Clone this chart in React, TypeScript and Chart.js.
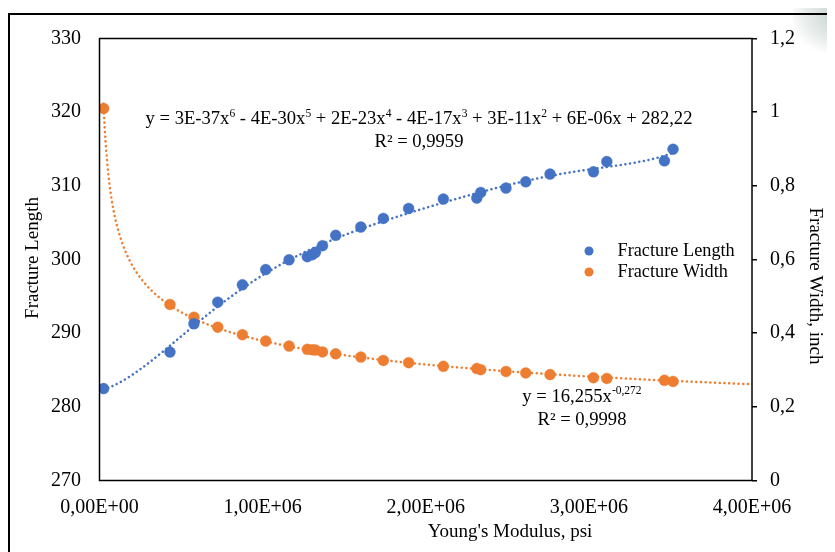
import React, { useEffect, useRef } from 'react';
import { Chart, registerables } from 'chart.js';

Chart.register(...registerables);

// ---- data ----
const youngsModulus = [25000, 432000, 579000, 725000, 876000, 1019000, 1162000, 1274000, 1305000, 1324000, 1367000, 1448000, 1602000, 1740000, 1895000, 2108000, 2313000, 2337000, 2492000, 2613000, 2762000, 3028000, 3110000, 3463000, 3516000];
const fractureLength = [282.48, 287.44, 291.28, 294.21, 296.57, 298.63, 299.95, 300.39, 300.66, 300.97, 301.88, 303.28, 304.41, 305.58, 306.93, 308.2, 308.34, 309.1, 309.69, 310.55, 311.59, 311.9, 313.29, 313.39, 314.97];
const fractureWidth = [1.01, 0.478, 0.4435, 0.4164, 0.3958, 0.3785, 0.365, 0.356, 0.355, 0.354, 0.349, 0.344, 0.335, 0.326, 0.32, 0.31, 0.304, 0.301, 0.296, 0.292, 0.2875, 0.279, 0.277, 0.272, 0.269];

const xTickLabels = ['0,00E+00', '1,00E+06', '2,00E+06', '3,00E+06', '4,00E+06'];
const leftTickLabels = ['270', '280', '290', '300', '310', '320', '330'];
const rightTickLabels = ['0', '0,2', '0,4', '0,6', '0,8', '1', '1,2'];

const seriesNames = ['Fracture Length', 'Fracture Width'];
const xTitle = "Young's Modulus, psi";
const yLeftTitle = 'Fracture Length';
const yRightTitle = 'Fracture Width, inch';
const eqLength: [string, boolean][] = [
  ['y = 3E-37x', false], ['6', true], [' - 4E-30x', false], ['5', true], [' + 2E-23x', false], ['4', true],
  [' - 4E-17x', false], ['3', true], [' + 3E-11x', false], ['2', true], [' + 6E-06x + 282,22', false],
];
const r2Length = 'R² = 0,9959';
const eqWidth: [string, boolean][] = [['y = 16,255x', false], ['-0,272', true]];
const r2Width = 'R² = 0,9998';

const BLUE = '#4472C4';
const ORANGE = '#ED7D31';
const FONT = '"Liberation Serif", "Times New Roman", serif';

// ---- trendline fits (least squares, like Excel) ----
function powerFit(xs: number[], ys: number[]) {
  const n = xs.length;
  let sx = 0, sy = 0, sxx = 0, sxy = 0;
  for (let i = 0; i < n; i++) {
    const lx = Math.log(xs[i]);
    const ly = Math.log(ys[i]);
    sx += lx; sy += ly; sxx += lx * lx; sxy += lx * ly;
  }
  const b = (n * sxy - sx * sy) / (n * sxx - sx * sx);
  const a = Math.exp((sy - b * sx) / n);
  return (x: number) => a * Math.pow(x, b);
}

function polyFit(xs: number[], ys: number[], deg: number) {
  const scale = 1e6;
  const m = deg + 1;
  const A: number[][] = [];
  const B: number[] = [];
  for (let r = 0; r < m; r++) {
    A.push(new Array(m).fill(0));
    B.push(0);
  }
  for (let i = 0; i < xs.length; i++) {
    const t = xs[i] / scale;
    const pw: number[] = [];
    for (let k = 0; k < 2 * m; k++) pw.push(Math.pow(t, k));
    for (let r = 0; r < m; r++) {
      for (let c = 0; c < m; c++) A[r][c] += pw[r + c];
      B[r] += pw[r] * ys[i];
    }
  }
  for (let col = 0; col < m; col++) {
    let piv = col;
    for (let r = col + 1; r < m; r++) if (Math.abs(A[r][col]) > Math.abs(A[piv][col])) piv = r;
    [A[col], A[piv]] = [A[piv], A[col]];
    [B[col], B[piv]] = [B[piv], B[col]];
    for (let r = col + 1; r < m; r++) {
      const f = A[r][col] / A[col][col];
      for (let c = col; c < m; c++) A[r][c] -= f * A[col][c];
      B[r] -= f * B[col];
    }
  }
  const coef = new Array(m).fill(0);
  for (let r = m - 1; r >= 0; r--) {
    let s = B[r];
    for (let c = r + 1; c < m; c++) s -= A[r][c] * coef[c];
    coef[r] = s / A[r][r];
  }
  return (x: number) => {
    const t = x / scale;
    let v = 0;
    for (let k = m - 1; k >= 0; k--) v = v * t + coef[k];
    return v;
  };
}

function drawRich(ctx: CanvasRenderingContext2D, parts: [string, boolean][], cx: number, cy: number, size: number) {
  const supSize = size * 0.62;
  let total = 0;
  for (const [t, sup] of parts) {
    ctx.font = `${sup ? supSize : size}px ${FONT}`;
    total += ctx.measureText(t).width;
  }
  let x = cx - total / 2;
  ctx.textAlign = 'left';
  ctx.textBaseline = 'middle';
  for (const [t, sup] of parts) {
    ctx.font = `${sup ? supSize : size}px ${FONT}`;
    ctx.fillText(t, x, sup ? cy - size * 0.32 : cy);
    x += ctx.measureText(t).width;
  }
}

const overlayPlugin = {
  id: 'overlay',
  afterDraw(chart: any) {
    const ctx: CanvasRenderingContext2D = chart.ctx;
    const a = chart.chartArea;
    ctx.save();
    // plot box
    ctx.strokeStyle = '#000';
    ctx.lineWidth = 1.5;
    ctx.strokeRect(a.left, a.top, a.right - a.left, a.bottom - a.top);

    ctx.fillStyle = '#000';
    // equations
    drawRich(ctx, eqLength, 411, 111.5, 18.6);
    drawRich(ctx, [[r2Length, false]], 411, 134.5, 18.6);
    drawRich(ctx, eqWidth, 574, 389, 18.6);
    drawRich(ctx, [[r2Width, false]], 574, 412.5, 18.6);

    // legend
    const lg = [[BLUE, seriesNames[0], 243], [ORANGE, seriesNames[1], 264]] as [string, string, number][];
    for (const [c, name, y] of lg) {
      ctx.fillStyle = c;
      ctx.beginPath();
      ctx.arc(581, y, 4.5, 0, Math.PI * 2);
      ctx.fill();
      ctx.fillStyle = '#000';
      ctx.font = `18.3px ${FONT}`;
      ctx.textAlign = 'left';
      ctx.textBaseline = 'middle';
      ctx.fillText(name, 609.5, y);
    }

    // axis titles
    ctx.font = `19px ${FONT}`;
    ctx.textAlign = 'center';
    ctx.textBaseline = 'middle';
    ctx.fillText(xTitle, 502, 524.5);
    ctx.save();
    ctx.translate(25, 250);
    ctx.rotate(-Math.PI / 2);
    ctx.fillText(yLeftTitle, 0, 0);
    ctx.restore();
    ctx.save();
    ctx.translate(807, 278);
    ctx.rotate(Math.PI / 2);
    ctx.fillText(yRightTitle, 0, 0);
    ctx.restore();
    ctx.restore();
  },
};

export default function App() {
  const ref = useRef<HTMLCanvasElement | null>(null);

  useEffect(() => {
    if (!ref.current) return;
    const lenFit = polyFit(youngsModulus, fractureLength, 6);
    const widFit = powerFit(youngsModulus, fractureWidth);
    const x0 = youngsModulus[0];
    const x1 = youngsModulus[youngsModulus.length - 1];
    const N = 400;
    const lenTrend: { x: number; y: number }[] = [];
    for (let i = 0; i <= N; i++) {
      const x = x0 + ((x1 - x0) * i) / N;
      lenTrend.push({ x, y: lenFit(x) });
    }
    const widTrend: { x: number; y: number }[] = [];
    const xEnd = 4e6;
    for (let i = 0; i <= N; i++) {
      const x = x0 * Math.pow(xEnd / x0, i / N);
      widTrend.push({ x, y: widFit(x) });
    }

    const tickFont = { family: FONT, size: 20 };
    const chart = new Chart(ref.current, {
      type: 'scatter',
      data: {
        datasets: [
          {
            label: seriesNames[0],
            data: youngsModulus.map((x, i) => ({ x, y: fractureLength[i] })),
            yAxisID: 'y',
            backgroundColor: BLUE,
            borderColor: 'rgba(68,114,196,0.35)',
            pointRadius: 5.5,
            pointBorderWidth: 1,
            showLine: false,
          },
          {
            label: seriesNames[1],
            data: youngsModulus.map((x, i) => ({ x, y: fractureWidth[i] })),
            yAxisID: 'y1',
            backgroundColor: ORANGE,
            borderColor: 'rgba(237,125,49,0.35)',
            pointRadius: 5.5,
            pointBorderWidth: 1,
            showLine: false,
          },
          {
            label: 'trend length',
            data: lenTrend,
            yAxisID: 'y',
            showLine: true,
            borderColor: BLUE,
            borderWidth: 2.5,
            borderDash: [0.1, 4.6],
            borderCapStyle: 'round',
            pointRadius: 0,
            fill: false,
          },
          {
            label: 'trend width',
            data: widTrend,
            yAxisID: 'y1',
            showLine: true,
            borderColor: ORANGE,
            borderWidth: 2.5,
            borderDash: [0.1, 4.6],
            borderCapStyle: 'round',
            pointRadius: 0,
            fill: false,
          },
        ],
      } as any,
      options: {
        animation: false,
        responsive: false,
        events: [],
        layout: { padding: { top: 29.3, left: 0, right: 0, bottom: 0 } },
        plugins: { legend: { display: false }, tooltip: { enabled: false } },
        scales: {
          x: {
            type: 'linear',
            position: 'bottom',
            min: 0,
            max: 4e6,
            ticks: {
              stepSize: 1e6,
              font: tickFont,
              color: '#000',
              padding: 15,
              maxRotation: 0,
              callback: (v: any) => xTickLabels[Math.round(Number(v) / 1e6)] ?? '',
            },
            grid: { display: false, drawTicks: false },
            border: { display: false },
            afterFit: (s: any) => { s.height = 71.5; },
          },
          y: {
            type: 'linear',
            position: 'left',
            min: 270,
            max: 330,
            ticks: {
              stepSize: 10,
              font: tickFont,
              color: '#000',
              padding: 18.5,
              callback: (v: any) => leftTickLabels[Math.round((Number(v) - 270) / 10)] ?? '',
            },
            grid: { display: false, drawTicks: false },
            border: { display: false },
            afterFit: (s: any) => { s.width = 91.5; },
          },
          y1: {
            type: 'linear',
            position: 'right',
            min: 0,
            max: 1.2,
            ticks: {
              stepSize: 0.2,
              font: tickFont,
              color: '#000',
              padding: 13,
              callback: (v: any) => rightTickLabels[Math.round(Number(v) / 0.2)] ?? '',
            },
            grid: { display: true, drawOnChartArea: false, drawTicks: true, tickLength: 5, color: '#000', lineWidth: 1.5 },
            border: { display: false },
            afterFit: (s: any) => { s.width = 83; },
          },
        },
      } as any,
      plugins: [overlayPlugin],
    });
    return () => chart.destroy();
  }, []);

  return (
    <div style={{ position: 'relative', width: 827, height: 544, overflow: 'hidden', background: '#fff' }}>
      <div
        style={{
          position: 'absolute',
          left: 785,
          top: -12,
          width: 60,
          height: 56,
          background: 'radial-gradient(ellipse at 75% 35%, rgba(160,178,170,0.6), rgba(200,212,206,0.35) 55%, rgba(255,255,255,0) 78%)',
        }}
      />
      <div
        style={{
          position: 'absolute',
          left: 0,
          top: 5,
          width: 1000,
          height: 1000,
          borderLeft: '2px solid #000',
          borderTop: '2px solid #000',
        }}
      />
      <canvas ref={ref} width={827} height={544} style={{ position: 'absolute', left: 0, top: 0 }} />
    </div>
  );
}
